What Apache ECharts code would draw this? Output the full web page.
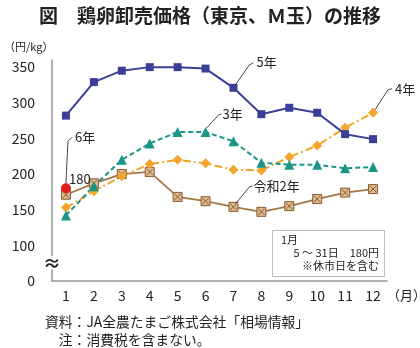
<!DOCTYPE html>
<html><head><meta charset="utf-8">
<script src="https://cdn.jsdelivr.net/npm/echarts@6/dist/echarts.min.js"></script>
<style>html,body{margin:0;padding:0;background:#fff}#c{width:420px;height:348px}</style>
</head><body><div id="c"></div>
<script>
var months = ['1','2','3','4','5','6','7','8','9','10','11','12'];
var yTicks = [50,100,150,200,250,300,350];
var r2 = [171,187,200,203,168,162,154,147,155,165,174,179];
var r3 = [142,183,220,243,259,259,246,216,213,213,208,210];
var r4 = [153,176,197,214,220,215,206,205,224,240,265,286];
var r5 = [282,329,345,350,350,348,321,284,293,286,256,249];
var r6 = [180,'-','-','-','-','-','-','-','-','-','-','-'];
var FONT = '"Noto Sans CJK JP", "Noto Sans", sans-serif';

var chart = echarts.init(document.getElementById('c'), null, {renderer:'canvas'});
var boxSym = 'path://M0,0L10,0L10,10L0,10Z M1.5,1.5L8.5,8.5 M8.5,1.5L1.5,8.5';
chart.setOption({
  animation:false,
  textStyle:{fontFamily:FONT},
  title:{text:'図　鶏卵卸売価格（東京、Ｍ玉）の推移', left:'center', top:1,
    textStyle:{fontFamily:FONT, fontSize:19, fontWeight:'bold', color:'#222'}},
  grid:{left:52, right:33, top:60, bottom:67},
  xAxis:{type:'category', data:months, boundaryGap:true,
    axisLine:{lineStyle:{color:'#999', width:1.5}}, axisTick:{show:false},
    axisLabel:{color:'#222', fontSize:14, margin:8, fontFamily:FONT}},
  yAxis:{type:'value', min:50, max:360, interval:50,
    axisLine:{show:true, lineStyle:{color:'#999', width:1.5}}, axisTick:{show:false},
    splitLine:{show:false},
    axisLabel:{color:'#222', fontSize:14, margin:17, fontFamily:FONT,
      formatter:function(v){ if(v===50) return '0'; if(yTicks.indexOf(v)<0) return ''; return String(v);} }},
  series:[
    {name:'令和2年', type:'line', data:r2, symbol:boxSym, symbolSize:9,
      lineStyle:{color:'#a57545', width:1.8},
      itemStyle:{color:'#dcbb90', borderColor:'#8a5a2e', borderWidth:1}},
    {name:'4年', type:'line', data:r4, symbol:'diamond', symbolSize:10,
      lineStyle:{color:'#f2a52a', width:2, type:[8,3,2,3]},
      itemStyle:{color:'#f2a52a'}},
    {name:'3年', type:'line', data:r3, symbol:'triangle', symbolSize:10,
      lineStyle:{color:'#1a9688', width:2, type:[5,3]},
      itemStyle:{color:'#1a9688'}},
    {name:'5年', type:'line', data:r5, symbol:'rect', symbolSize:8,
      lineStyle:{color:'#3b3f98', width:2},
      itemStyle:{color:'#3b3f98'}},
    {name:'6年', type:'line', data:r6, symbol:'circle', symbolSize:10,
      itemStyle:{color:'#e02020'}}
  ]
});

function px(si, idx, v){ return chart.convertToPixel({seriesIndex:si}, [idx, v]); }
var g = [];
function ann(p, pts, text, tx, ty){
  g.push({type:'polyline', shape:{points:pts.map(function(d){return [p[0]+d[0], p[1]+d[1]];})},
    style:{stroke:'#444', lineWidth:1, fill:null}, z:10});
  g.push({type:'text', x:p[0]+tx, y:p[1]+ty, style:{text:text, font:'13px '+FONT, fill:'#222', textVerticalAlign:'middle', textAlign:'left'}, z:10});
}
var p5 = px(3, 6, r5[6]); ann(p5, [[2,-3],[16,-23],[20,-25]], '5年', 23, -26);
var p3 = px(2, 5, r3[5]); ann(p3, [[1,-4],[13,-17],[16,-18]], '3年', 17, -18);
var p4 = px(1, 11, r4[11]); ann(p4, [[2,-3],[15,-23],[19,-24]], '4年', 22, -24);
var p2 = px(0, 6, r2[6]); ann(p2, [[2,-3],[16,-20],[19,-21]], '令和2年', 20, -21);
var p6 = px(4, 0, r6[0]); ann(p6, [[0,-5],[2,-47],[6,-51]], '6年', 9, -51);
g.push({type:'text', x:p6[0]+3, y:p6[1]-9, style:{text:String(r6[0]), font:'13px '+FONT, fill:'#222', textVerticalAlign:'middle'}, z:10});

// axis break
var b = chart.convertToPixel({yAxisIndex:0}, 75);
var ax = chart.convertToPixel({xAxisIndex:0}, 0) - 14;
g.push({type:'rect', shape:{x:ax-5, y:b-7, width:10, height:13}, style:{fill:'#fff'}, z:9});
g.push({type:'text', x:ax, y:b, style:{text:'≈', font:'bold 18px '+FONT, fill:'#222', textAlign:'center', textVerticalAlign:'middle'}, z:10});

// note box
g.push({type:'rect', shape:{x:272.5, y:230.5, width:112, height:46}, style:{fill:'#fff', stroke:'#bbb', lineWidth:1}, z:8});
g.push({type:'text', x:281, y:240, style:{text:'1月', font:'11px '+FONT, fill:'#222', textVerticalAlign:'middle'}, z:10});
g.push({type:'text', x:379, y:253, style:{text:'5 ～ 31日　180円', font:'11px '+FONT, fill:'#222', textAlign:'right', textVerticalAlign:'middle'}, z:10});
g.push({type:'text', x:379, y:266, style:{text:'※休市日を含む', font:'11px '+FONT, fill:'#222', textAlign:'right', textVerticalAlign:'middle'}, z:10});

// units
g.push({type:'text', x:4, y:47, style:{text:'（円/kg）', font:'11px '+FONT, fill:'#222', textVerticalAlign:'middle'}, z:10});
g.push({type:'text', x:387, y:295, style:{text:'（月）', font:'13px '+FONT, fill:'#222', textVerticalAlign:'middle'}, z:10});
// source
g.push({type:'text', x:45, y:322, style:{text:'資料：JA全農たまご株式会社「相場情報」', font:'13.8px '+FONT, fill:'#222', textVerticalAlign:'middle'}, z:10});
g.push({type:'text', x:45, y:340, style:{text:'　注：消費税を含まない。', font:'13.8px '+FONT, fill:'#222', textVerticalAlign:'middle'}, z:10});

chart.setOption({graphic:g});
</script></body></html>
